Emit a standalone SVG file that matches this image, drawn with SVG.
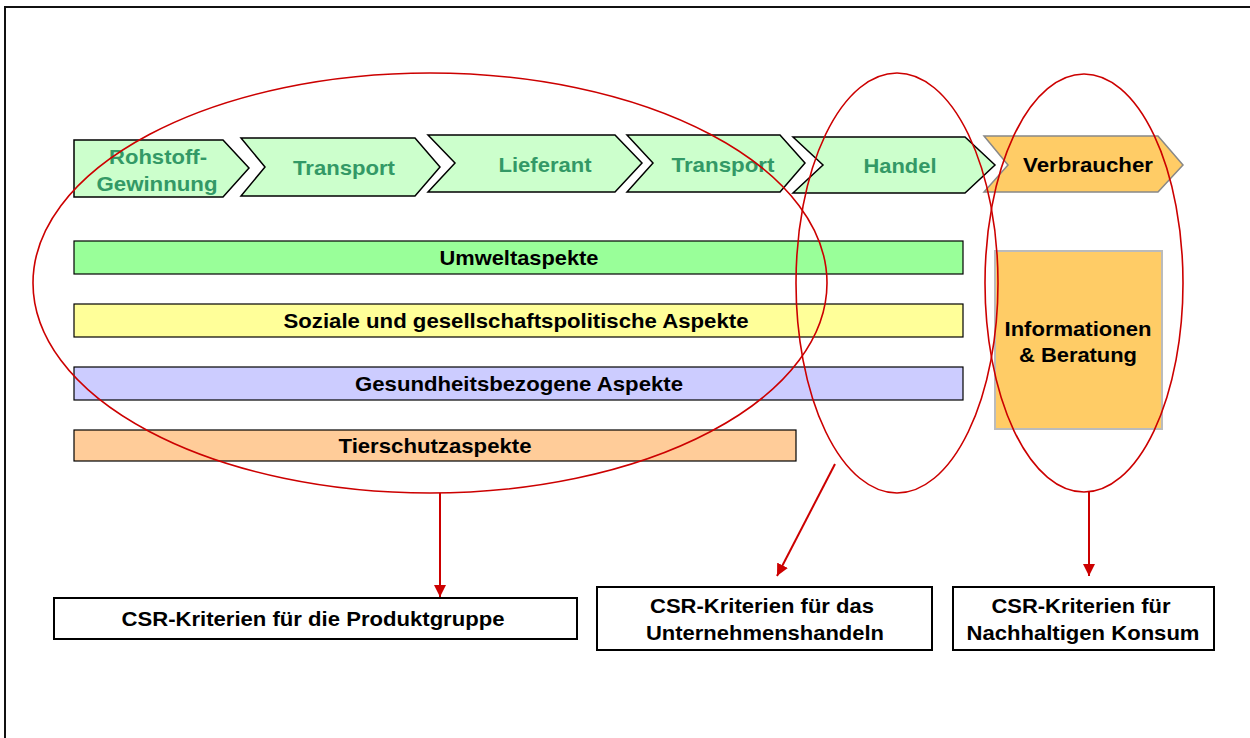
<svg xmlns="http://www.w3.org/2000/svg" width="1250" height="738" viewBox="0 0 1250 738">
<style>
.chev{fill:#CCFFCC;stroke:#000;stroke-width:1.5;stroke-linejoin:miter}
.ctxt{font-family:"Liberation Sans",Arial,sans-serif;font-weight:bold;font-size:21px;fill:#339966;text-anchor:middle}
.btxt{font-family:"Liberation Sans",Arial,sans-serif;font-weight:bold;font-size:20.5px;fill:#000;text-anchor:middle}
.bar{stroke:#000;stroke-width:1.2}
.box{fill:#fff;stroke:#000;stroke-width:2}
.ell{fill:none;stroke:#CC0000;stroke-width:1.6}
.arr{fill:none;stroke:#CC0000;stroke-width:2;marker-end:url(#ah)}
</style>
<defs>
<marker id="ah" markerWidth="12" markerHeight="12" refX="10" refY="5" orient="auto" markerUnits="userSpaceOnUse" viewBox="0 0 10 10">
<path d="M0,0 L10,5 L0,10 Z" fill="#CC0000"/>
</marker>
</defs>
<rect x="5" y="7" width="1260" height="740" fill="#fff" stroke="#111" stroke-width="2"/>

<g id="rohstoff">
<polygon class="chev" points="74,140 223,140 249,168 223,197 74,197"/>
<text class="ctxt" x="158" y="164" textLength="98" lengthAdjust="spacingAndGlyphs">Rohstoff-</text>
<text class="ctxt" x="157" y="191" textLength="121" lengthAdjust="spacingAndGlyphs">Gewinnung</text>
</g>
<g id="transport1">
<polygon class="chev" points="241,138 415,138 440,167 415,196 241,196 265,167"/>
<text class="ctxt" x="344" y="175" textLength="102" lengthAdjust="spacingAndGlyphs">Transport</text>
</g>
<g id="lieferant">
<polygon class="chev" points="428,135 615,135 642,163 615,192 428,192 455,163"/>
<text class="ctxt" x="545" y="172" textLength="93" lengthAdjust="spacingAndGlyphs">Lieferant</text>
</g>
<g id="transport2">
<polygon class="chev" points="627,135 780,135 805,163 780,192 627,192 653,163"/>
<text class="ctxt" x="723" y="172" textLength="103" lengthAdjust="spacingAndGlyphs">Transport</text>
</g>
<g id="handel">
<polygon class="chev" points="793,137 965,137 995,165 965,193 793,193 823,165"/>
<text class="ctxt" x="900" y="173" textLength="73" lengthAdjust="spacingAndGlyphs">Handel</text>
</g>
<g id="verbraucher">
<polygon points="984,136 1158,136 1183,165 1158,192 984,192 1008,165" fill="#FFCC66" stroke="#888" stroke-width="1.5"/>
<text class="btxt" x="1088" y="172" textLength="130" lengthAdjust="spacingAndGlyphs" style="font-size:21px">Verbraucher</text>
</g>

<g id="umwelt">
<rect class="bar" x="74" y="241" width="889" height="33" fill="#99FF99"/>
<text class="btxt" x="519" y="265" textLength="159" lengthAdjust="spacingAndGlyphs">Umweltaspekte</text>
</g>
<g id="soziale">
<rect class="bar" x="74" y="304" width="889" height="33" fill="#FFFF99"/>
<text class="btxt" x="516" y="328" textLength="465" lengthAdjust="spacingAndGlyphs">Soziale und gesellschaftspolitische Aspekte</text>
</g>
<g id="gesundheit">
<rect class="bar" x="74" y="367" width="889" height="33" fill="#CCCCFF"/>
<text class="btxt" x="519" y="391" textLength="328" lengthAdjust="spacingAndGlyphs">Gesundheitsbezogene Aspekte</text>
</g>
<g id="tierschutz">
<rect class="bar" x="74" y="430" width="722" height="31" fill="#FFCC99"/>
<text class="btxt" x="435" y="453" textLength="193" lengthAdjust="spacingAndGlyphs">Tierschutzaspekte</text>
</g>
<g id="informationen">
<rect x="995" y="251" width="167" height="178" fill="#FFCC66" stroke="#BBB" stroke-width="2"/>
<text class="btxt" x="1078" y="336" textLength="147" lengthAdjust="spacingAndGlyphs">Informationen</text>
<text class="btxt" x="1078" y="362" textLength="118" lengthAdjust="spacingAndGlyphs">&amp; Beratung</text>
</g>

<g id="ellipses">
<ellipse class="ell" cx="430" cy="283" rx="397" ry="210"/>
<ellipse class="ell" cx="897" cy="283" rx="101" ry="210"/>
<ellipse class="ell" cx="1084" cy="283" rx="99" ry="209"/>
</g>

<g id="connectors">
<path class="arr" d="M440,493 L440,597"/>
<path class="arr" d="M835,464 L777,576"/>
<path class="arr" d="M1089,492 L1089,576"/>
</g>

<g id="box-produkt">
<rect class="box" x="54" y="598" width="523" height="41"/>
<text class="btxt" x="313" y="626" textLength="383" lengthAdjust="spacingAndGlyphs">CSR-Kriterien für die Produktgruppe</text>
</g>
<g id="box-unternehmen">
<rect class="box" x="597" y="587" width="335" height="63"/>
<text class="btxt" x="762" y="613" textLength="224" lengthAdjust="spacingAndGlyphs">CSR-Kriterien für das</text>
<text class="btxt" x="765" y="640" textLength="238" lengthAdjust="spacingAndGlyphs">Unternehmenshandeln</text>
</g>
<g id="box-konsum">
<rect class="box" x="953" y="587" width="261" height="63"/>
<text class="btxt" x="1081" y="613" textLength="179" lengthAdjust="spacingAndGlyphs">CSR-Kriterien für</text>
<text class="btxt" x="1083" y="640" textLength="233" lengthAdjust="spacingAndGlyphs">Nachhaltigen Konsum</text>
</g>
</svg>
